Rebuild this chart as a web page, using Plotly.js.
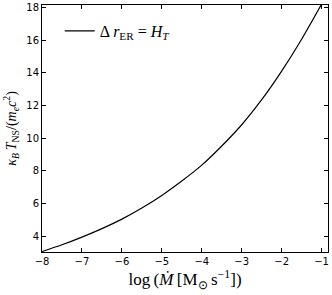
<!DOCTYPE html>
<html>
<head>
<meta charset="utf-8">
<script src="https://cdn.plot.ly/plotly-3.0.1.min.js"></script>
<style>html,body{margin:0;padding:0;background:#fff;}#chart{width:332px;height:295px;}</style>
</head>
<body>
<div id="chart"></div>
<script>
// Data
const logMdot = [-8, -7.5, -7, -6.5, -6, -5.5, -5, -4.5, -4, -3.5, -3, -2.5, -2, -1.5, -1];
const kTns    = [3.07, 3.48, 3.95, 4.47, 5.05, 5.73, 6.5, 7.38, 8.35, 9.52, 10.82, 12.35, 14.1, 16.05, 18.2];
const seriesName = "Δ <i>r</i><sub>ER</sub> = <i>H</i><sub><i>T</i></sub>";
const xTicks = [-8, -7, -6, -5, -4, -3, -2, -1];
const yTicks = [4, 6, 8, 10, 12, 14, 16, 18];

const trace = {
  x: logMdot, y: kTns, type: 'scatter', mode: 'lines',
  line: {color: '#000', width: 1.2, shape: 'spline', smoothing: 0.8},
  name: seriesName, showlegend: true
};

const tickFont = {family: 'DejaVu Sans', size: 10, color: '#000'};
const titleFont = {family: 'Liberation Serif', size: 17, color: '#000'};

const layout = {
  width: 332, height: 295,
  margin: {l: 42, r: 4, t: 5, b: 43},
  paper_bgcolor: '#fff', plot_bgcolor: '#fff',
  showlegend: true,
  legend: {x: 0.062, y: 0.895, xanchor: 'left', yanchor: 'middle',
           bgcolor: 'rgba(0,0,0,0)', borderwidth: 0,
           font: {family: 'Liberation Serif', size: 16, color: '#000'}},
  xaxis: {
    range: [-8, -0.84], tickvals: xTicks, ticks: 'inside', ticklen: 4, tickwidth: 1,
    tickcolor: '#000', showline: true, linecolor: '#000', linewidth: 1, mirror: 'ticks',
    showgrid: false, zeroline: false, tickfont: tickFont,
    title: {text: 'log\u2009(<i>M\u0307</i>\u2009[M<sub>⊙</sub>\u2009s<sup>−1</sup>])', font: titleFont, standoff: 5}
  },
  yaxis: {
    range: [3.04, 18.14], tickvals: yTicks, ticks: 'inside', ticklen: 4, tickwidth: 1,
    tickcolor: '#000', showline: true, linecolor: '#000', linewidth: 1, mirror: 'ticks',
    showgrid: false, zeroline: false, tickfont: tickFont,
    title: {text: '<i>κ</i><sub><i>B</i></sub>\u2009<i>T</i><sub>NS</sub>/(<i>m</i><sub><i>e</i></sub><i>c</i><sup>2</sup>)', font: {family: 'Liberation Serif', size: 14, color: '#000'}, standoff: 6}
  }
};

Plotly.newPlot('chart', [trace], layout, {staticPlot: true, displayModeBar: false});
</script>
</body>
</html>
